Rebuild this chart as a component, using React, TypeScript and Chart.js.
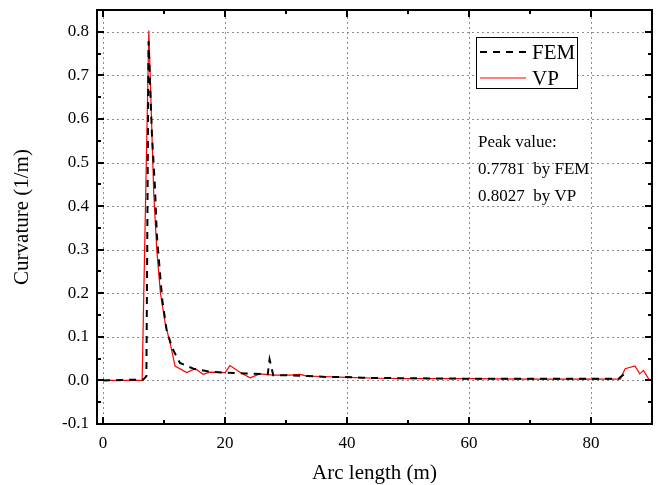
import React, { useEffect, useRef } from "react";
import { Chart, registerables } from "chart.js";

Chart.register(...registerables);

// ---- data ----
const femX = [0, 6.6, 7.1, 7.45, 8.0, 8.5, 8.8, 9.1, 9.7, 10.4, 11.3, 12.6, 14.8, 17.5, 20.0, 23.3, 27.0, 27.3, 27.9, 30.3, 33.5, 36.5, 39.5, 42.5, 50, 60, 70, 80, 84.5, 85.5];
const femY = [0, 0.002, 0.01, 0.7781, 0.566, 0.444, 0.338, 0.284, 0.185, 0.117, 0.075, 0.04, 0.027, 0.02, 0.018, 0.016, 0.014, 0.048, 0.012, 0.012, 0.01, 0.008, 0.008, 0.006, 0.005, 0.004, 0.004, 0.004, 0.004, 0.015];

const vpX = [0, 6.4, 7.5, 8.3, 8.8, 9.4, 10.2, 11.0, 11.8, 13.7, 15.1, 16.4, 17.5, 20.0, 20.8, 22.5, 24.1, 25.7, 27.9, 30.7, 32.3, 33.4, 36, 40, 45, 50, 60, 70, 80, 84.8, 85.6, 87.2, 88.0, 88.6, 89.6, 90];
const vpY = [0, 0, 0.8027, 0.43, 0.3, 0.2, 0.13, 0.085, 0.033, 0.018, 0.027, 0.014, 0.019, 0.018, 0.034, 0.018, 0.006, 0.015, 0.012, 0.012, 0.014, 0.01, 0.009, 0.007, 0.005, 0.004, 0.004, 0.003, 0.003, 0.003, 0.027, 0.033, 0.015, 0.023, 0.0, 0.0];

const seriesNames = ["FEM", "VP"];
const xTicks = [0, 20, 40, 60, 80];
const xMinorTicks = [10, 30, 50, 70];
const yTicks = [-0.1, 0, 0.1, 0.2, 0.3, 0.4, 0.5, 0.6, 0.7, 0.8];
const yGridTicks = [0, 0.1, 0.2, 0.3, 0.4, 0.5, 0.6, 0.7, 0.8];
const yMinorTicks = [-0.05, 0.05, 0.15, 0.25, 0.35, 0.45, 0.55, 0.65, 0.75];
const annotationLines = ["Peak value:", "0.7781  by FEM", "0.8027  by VP"];
const xTitle = "Arc length (m)";
const yTitle = "Curvature (1/m)";

const FONT = "'Liberation Serif', 'Times New Roman', serif";

const gridPlugin = {
  id: "dottedGrid",
  beforeDatasetsDraw(chart: any) {
    const { ctx, chartArea: a, scales } = chart;
    ctx.save();
    ctx.strokeStyle = "#8c8c8c";
    ctx.lineWidth = 1;
    ctx.setLineDash([2, 3]);
    xTicks.forEach((v) => {
      const p = Math.round(scales.x.getPixelForValue(v)) + 0.5;
      ctx.beginPath();
      ctx.moveTo(p, a.bottom);
      ctx.lineTo(p, a.top);
      ctx.stroke();
    });
    yGridTicks.forEach((v) => {
      const p = Math.round(scales.y.getPixelForValue(v)) + 0.5;
      ctx.beginPath();
      ctx.moveTo(a.left, p);
      ctx.lineTo(a.right, p);
      ctx.stroke();
    });
    ctx.restore();
  },
};

const framePlugin = {
  id: "frameAndExtras",
  afterDraw(chart: any) {
    const { ctx, chartArea: a, scales } = chart;
    const xs = scales.x;
    const ys = scales.y;
    ctx.save();
    ctx.strokeStyle = "#000";
    ctx.lineWidth = 2;
    ctx.setLineDash([]);
    ctx.strokeRect(a.left, a.top, a.right - a.left, a.bottom - a.top);
    const drawX = (vals: number[], len: number) => {
      vals.forEach((v) => {
        const p = Math.round(xs.getPixelForValue(v));
        ctx.beginPath();
        ctx.moveTo(p, a.bottom);
        ctx.lineTo(p, a.bottom - len);
        ctx.moveTo(p, a.top);
        ctx.lineTo(p, a.top + len);
        ctx.stroke();
      });
    };
    const drawY = (vals: number[], len: number) => {
      vals.forEach((v) => {
        const p = Math.round(ys.getPixelForValue(v));
        ctx.beginPath();
        ctx.moveTo(a.left, p);
        ctx.lineTo(a.left + len, p);
        ctx.moveTo(a.right, p);
        ctx.lineTo(a.right - len, p);
        ctx.stroke();
      });
    };
    drawX(xTicks, 7);
    drawX(xMinorTicks, 4);
    drawY(yTicks, 7);
    drawY(yMinorTicks, 4);

    // legend box
    const bx = a.left + 379;
    const by = a.top + 27;
    const bw = 101;
    const bh = 51;
    ctx.fillStyle = "#fff";
    ctx.fillRect(bx, by, bw, bh);
    ctx.lineWidth = 1;
    ctx.strokeStyle = "#000";
    ctx.strokeRect(bx + 0.5, by + 0.5, bw, bh);
    const ds = chart.data.datasets;
    ds.forEach((d: any, i: number) => {
      const cy = by + 15 + i * 26;
      ctx.beginPath();
      ctx.strokeStyle = d.borderColor;
      ctx.lineWidth = d.borderWidth;
      ctx.setLineDash(d.borderDash || []);
      ctx.moveTo(bx + 4, cy);
      ctx.lineTo(bx + 50, cy);
      ctx.stroke();
      ctx.setLineDash([]);
      ctx.fillStyle = "#000";
      ctx.font = `21px ${FONT}`;
      ctx.textBaseline = "middle";
      ctx.textAlign = "left";
      ctx.fillText(seriesNames[i], bx + 56, cy + 1);
    });

    // annotation
    ctx.font = `17px ${FONT}`;
    ctx.fillStyle = "#000";
    ctx.textBaseline = "middle";
    annotationLines.forEach((t, i) => {
      ctx.fillText(t, a.left + 381, a.top + 133 + i * 27);
    });
    ctx.restore();
  },
};

export default function App() {
  const ref = useRef<HTMLCanvasElement | null>(null);
  useEffect(() => {
    if (!ref.current) return;
    Chart.defaults.font.family = FONT;
    const chart = new Chart(ref.current, {
      type: "line",
      data: {
        datasets: [
          {
            label: seriesNames[0],
            data: femX.map((x, i) => ({ x, y: femY[i] })),
            borderColor: "#000000",
            borderWidth: 2,
            borderDash: [7, 6],
            pointRadius: 0,
            tension: 0,
            fill: false,
          },
          {
            label: seriesNames[1],
            data: vpX.map((x, i) => ({ x, y: vpY[i] })),
            borderColor: "#ff0000",
            borderWidth: 1.2,
            pointRadius: 0,
            tension: 0,
            fill: false,
          },
        ],
      },
      options: {
        animation: false,
        responsive: false,
        layout: { padding: { top: 10, right: 7, left: 0, bottom: 0 } },
        plugins: { legend: { display: false }, tooltip: { enabled: false } },
        scales: {
          x: {
            type: "linear",
            min: -1,
            max: 90,
            afterBuildTicks: (s: any) => {
              s.ticks = xTicks.map((v) => ({ value: v }));
            },
            afterFit: (s: any) => {
              s.height = 61;
              s.paddingLeft = 0;
              s.paddingRight = 0;
            },
            ticks: {
              color: "#000",
              font: { size: 17, family: FONT },
              padding: 9,
              maxRotation: 0,
              callback: (v: any) => String(v),
            },
            grid: { display: false, drawTicks: false },
            border: { display: false },
            title: {
              display: true,
              text: xTitle,
              color: "#000",
              font: { size: 21, family: FONT },
              padding: { top: 0, bottom: -1 },
            },
          },
          y: {
            type: "linear",
            min: -0.1,
            max: 0.85,
            afterBuildTicks: (s: any) => {
              s.ticks = yTicks.map((v) => ({ value: v }));
            },
            afterFit: (s: any) => {
              s.width = 97;
              s.paddingTop = 0;
              s.paddingBottom = 0;
            },
            ticks: {
              color: "#000",
              font: { size: 17, family: FONT },
              padding: 8,
              callback: (v: any) => Number(v).toFixed(1),
            },
            grid: { display: false, drawTicks: false },
            border: { display: false },
            title: {
              display: true,
              text: yTitle,
              color: "#000",
              font: { size: 21, family: FONT },
              padding: { top: 10, bottom: 0 },
            },
          },
        },
      },
      plugins: [gridPlugin, framePlugin],
    } as any);
    return () => chart.destroy();
  }, []);
  return (
    <div style={{ position: "fixed", left: 0, top: 0, width: 659, height: 485, background: "#fff" }}>
      <canvas ref={ref} width={659} height={485} style={{ display: "block" }} />
    </div>
  );
}
